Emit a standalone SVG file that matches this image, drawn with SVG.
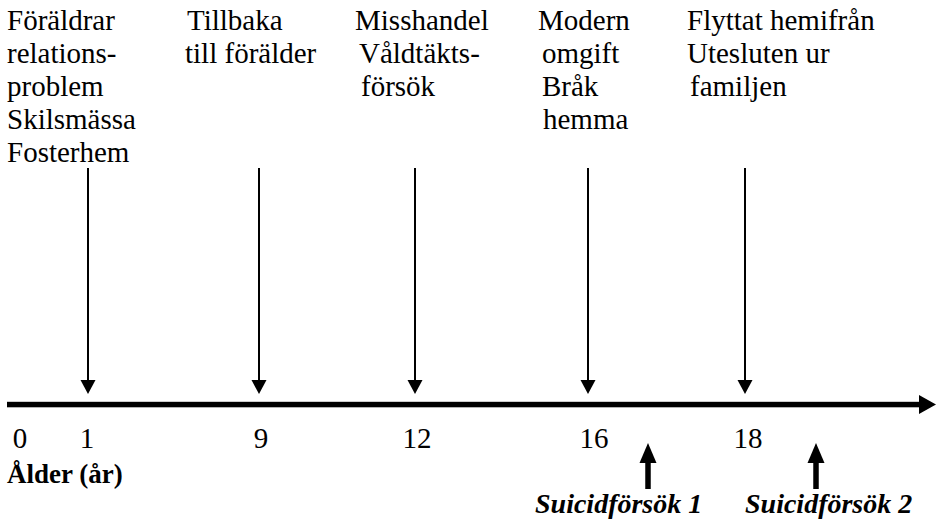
<svg xmlns="http://www.w3.org/2000/svg" width="936" height="522" viewBox="0 0 936 522">
<style>
text{font-family:"Liberation Serif","Times New Roman",serif;font-size:29px;fill:#000}
.b{font-weight:bold;font-size:27px}
.bi{font-weight:bold;font-style:italic;font-size:28px}
.n{text-anchor:middle}
.down{stroke:#000;stroke-width:2;fill:none}
.up{stroke:#000;stroke-width:5.5;fill:none}
.head{fill:#000}
</style>
<rect width="936" height="522" fill="#fff"/>
<g id="event-1">
<text x="7" y="30">Föräldrar</text>
<text x="7" y="63">relations-</text>
<text x="7" y="96">problem</text>
<text x="7" y="129">Skilsmässa</text>
<text x="7" y="162">Fosterhem</text>
</g>
<g id="event-9">
<text x="187" y="30">Tillbaka</text>
<text x="185" y="63">till förälder</text>
</g>
<g id="event-12">
<text x="355" y="30">Misshandel</text>
<text x="359" y="63">Våldtäkts-</text>
<text x="361" y="96">försök</text>
</g>
<g id="event-16">
<text x="538" y="30">Modern</text>
<text x="542" y="63">omgift</text>
<text x="542" y="96">Bråk</text>
<text x="543" y="129">hemma</text>
</g>
<g id="event-18">
<text x="687" y="30">Flyttat hemifrån</text>
<text x="687" y="63">Utesluten ur</text>
<text x="690" y="96">familjen</text>
</g>
<g id="axis">
<rect x="7" y="401.8" width="914" height="5.5" fill="#000"/>
<polygon class="head" points="919,395 936,404.5 919,414"/>
</g>
<g id="ticks">
<text class="n" x="20" y="448">0</text>
<text class="n" x="87" y="448">1</text>
<text class="n" x="261" y="448">9</text>
<text class="n" x="417" y="448">12</text>
<text class="n" x="594" y="448">16</text>
<text class="n" x="748" y="448">18</text>
</g>
<g id="axis-label">
<text class="b" x="7" y="483">Ålder (år)</text>
</g>
<g id="attempt-1">
<text class="bi" x="535" y="513">Suicidförsök 1</text>
</g>
<g id="attempt-2">
<text class="bi" x="745" y="513">Suicidförsök 2</text>
</g>
<g id="connectors">
<line class="down" x1="88" y1="168" x2="88" y2="381"/>
<polygon class="head" points="80.5,380 95.5,380 88,394"/>
<line class="down" x1="259" y1="168" x2="259" y2="381"/>
<polygon class="head" points="251.5,380 266.5,380 259,394"/>
<line class="down" x1="415" y1="168" x2="415" y2="381"/>
<polygon class="head" points="407.5,380 422.5,380 415,394"/>
<line class="down" x1="588" y1="168" x2="588" y2="381"/>
<polygon class="head" points="580.5,380 595.5,380 588,394"/>
<line class="down" x1="745" y1="168" x2="745" y2="381"/>
<polygon class="head" points="737.5,380 752.5,380 745,394"/>
<line class="up" x1="648" y1="489" x2="648" y2="460"/>
<polygon class="head" points="639.5,463 656.5,463 648,443"/>
<line class="up" x1="816" y1="489" x2="816" y2="460"/>
<polygon class="head" points="807.5,463 824.5,463 816,443"/>
</g>
</svg>
